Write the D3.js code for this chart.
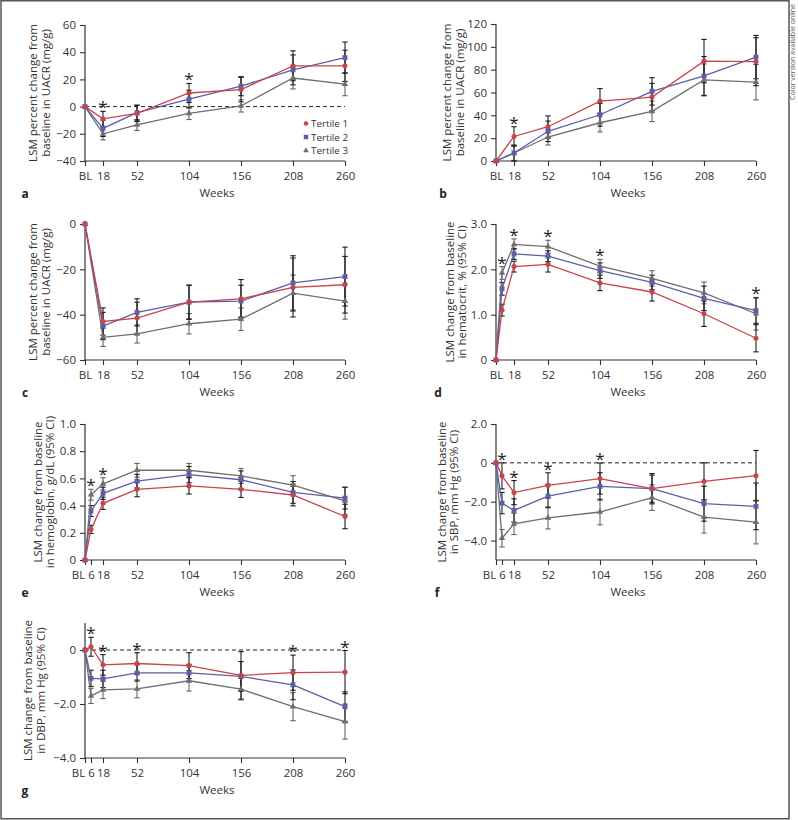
<!DOCTYPE html>
<html><head><meta charset="utf-8">
<script src="https://cdn.jsdelivr.net/npm/d3@7"></script>
<style>
html,body{margin:0;padding:0;background:#fff;}
svg{display:block;}
text{font-family:"Open Sans","DejaVu Sans",sans-serif;fill:#333;}
</style></head>
<body>
<svg id="chart" width="798" height="820"></svg>
<script>
// ---------- DATA ----------
const seriesNames = ["Tertile 1", "Tertile 2", "Tertile 3"];
const weeksA = [0, 18, 52, 104, 156, 208, 260];
const weeksB = [0, 6, 18, 52, 104, 156, 208, 260];
const tickLabelsA = ["BL", "18", "52", "104", "156", "208", "260"];
const tickLabelsB = ["BL", "6", "18", "52", "104", "156", "208", "260"];

// a: UACR
const a_t1 = [0, -9, -5, 10, 12.5, 30, 30];
const a_t2 = [0, -16, -4.5, 5.5, 15, 27, 36];
const a_t3 = [0, -20, -13.5, -5, 0.5, 21, 16.5];
const a_ci1 = [0, 5.5, 6, 7, 9, 11, 11.5];
const a_ci2 = [0, 6, 5.5, 6.5, 7, 11, 11.5];
const a_ci3 = [0, 4.5, 4, 4.5, 4.5, 8, 8.5];
const a_stars = [18, 104];

// b
const b_t1 = [0, 21.5, 30, 52.5, 56, 87.5, 87];
const b_t2 = [0, 7, 26, 40.5, 61, 74.5, 91];
const b_t3 = [0, 7, 21, 33.5, 43.5, 71, 69];
const b_ci1 = [0, 8.5, 9.5, 11, 12, 19, 21];
const b_ci2 = [0, 7, 9, 10, 12, 17, 19];
const b_ci3 = [0, 6.5, 7, 8, 9, 14, 15.5];
const b_stars = [18];

// c
const c_t1 = [0, -43, -41.5, -34.5, -33, -28, -26.8];
const c_t2 = [0, -45, -39, -34.5, -34, -26, -23.2];
const c_t3 = [0, -50, -48.5, -44, -42, -30.5, -34];
const c_ci1 = [0, 6, 7, 7.5, 8.5, 13, 12.5];
const c_ci2 = [0, 6, 6, 7.5, 7, 12, 13];
const c_ci3 = [0, 4, 4, 4.5, 5, 8, 8];
const c_stars = [];

// d: hematocrit
const d_t1 = [0, 1.1, 2.06, 2.11, 1.7, 1.5, 1.02, 0.48];
const d_t2 = [0, 1.57, 2.34, 2.29, 1.97, 1.71, 1.36, 1.09];
const d_t3 = [0, 1.92, 2.55, 2.5, 2.07, 1.8, 1.48, 1.02];
const d_ci1 = [0, 0.13, 0.12, 0.17, 0.17, 0.2, 0.28, 0.3];
const d_ci2 = [0, 0.14, 0.12, 0.12, 0.17, 0.16, 0.27, 0.28];
const d_ci3 = [0, 0.14, 0.12, 0.14, 0.15, 0.17, 0.24, 0.36];
const d_stars = [6, 18, 52, 104, 260];

// e: hemoglobin
const e_t1 = [0, 0.225, 0.417, 0.52, 0.545, 0.52, 0.478, 0.32];
const e_t2 = [0, 0.36, 0.49, 0.58, 0.628, 0.59, 0.497, 0.455];
const e_t3 = [0, 0.48, 0.56, 0.66, 0.66, 0.618, 0.55, 0.435];
const e_ci1 = [0, 0.03, 0.045, 0.055, 0.06, 0.06, 0.08, 0.09];
const e_ci2 = [0, 0.04, 0.045, 0.05, 0.06, 0.065, 0.08, 0.08];
const e_ci3 = [0, 0.04, 0.045, 0.05, 0.05, 0.055, 0.07, 0.1];
const e_stars = [6, 18];

// f: SBP
const f_t1 = [0, -0.67, -1.53, -1.16, -0.81, -1.33, -0.95, -0.66];
const f_t2 = [0, -2.07, -2.45, -1.71, -1.21, -1.33, -2.1, -2.24];
const f_t3 = [0, -3.88, -3.14, -2.83, -2.53, -1.79, -2.79, -3.05];
const f_ci1 = [0, 0.67, 0.62, 0.65, 0.8, 0.78, 0.95, 1.3];
const f_ci2 = [0, 0.55, 0.6, 0.6, 0.7, 0.7, 0.9, 1.2];
const f_ci3 = [0, 0.45, 0.55, 0.57, 0.66, 0.66, 0.82, 1.12];
const f_stars = [6, 18, 52, 104];

// g: DBP
const g_t1 = [0, 0.12, -0.55, -0.5, -0.58, -0.94, -0.84, -0.82];
const g_t2 = [0, -1.05, -1.07, -0.85, -0.85, -0.98, -1.29, -2.1];
const g_t3 = [0, -1.7, -1.48, -1.44, -1.14, -1.45, -2.1, -2.65];
const g_ci1 = [0, 0.35, 0.38, 0.4, 0.48, 0.88, 0.65, 0.8];
const g_ci2 = [0, 0.3, 0.32, 0.3, 0.32, 0.55, 0.55, 0.55];
const g_ci3 = [0, 0.28, 0.32, 0.33, 0.38, 0.4, 0.52, 0.65];
const g_stars = [6, 18, 52, 208, 260];

const yTicksA = [60, 40, 20, 0, -20, -40];
const yTicksB = [120, 100, 80, 60, 40, 20, 0];
const yTicksC = [0, -20, -40, -60];
const yTicksD = [3, 2, 1, 0];
const yTicksE = [1, 0.8, 0.6, 0.4, 0.2, 0];
const yTicksF = [2, 0, -2, -4];
const yTicksG = [0, -2, -4];

// ---------- STYLE / LAYOUT ----------
const colors = ["#c8434a", "#5a5fa8", "#6e6e6e"];
const barColors = ["#1e1e1e", "#1e1e1e", "#666"];
const uacrTitle = ["LSM percent change from", "baseline in UACR (mg/g)"];

const panels = [
  {id:"a", left:85, top:25, bottom:161, dom:[-40,60], ticks:yTicksA, fmt:"int", weeks:weeksA, labels:tickLabelsA,
   s:[a_t1,a_t2,a_t3], ci:[a_ci1,a_ci2,a_ci3], stars:a_stars, zero:true, title:uacrTitle, tx:[33,46], letterX:25, legend:true},
  {id:"b", left:496, top:24, bottom:161, dom:[0,120], ticks:yTicksB, fmt:"int", weeks:weeksA, labels:tickLabelsA,
   s:[b_t1,b_t2,b_t3], ci:[b_ci1,b_ci2,b_ci3], stars:b_stars, zero:false, title:uacrTitle, tx:[447,460], letterX:443},
  {id:"c", left:85, top:224, bottom:360, dom:[-60,0], ticks:yTicksC, fmt:"int", weeks:weeksA, labels:tickLabelsA,
   s:[c_t1,c_t2,c_t3], ci:[c_ci1,c_ci2,c_ci3], stars:c_stars, zero:false, title:uacrTitle, tx:[33,46], letterX:25},
  {id:"d", left:496, top:224, bottom:360, dom:[0,3], ticks:yTicksD, fmt:"dec1", weeks:weeksB, labels:tickLabelsA, tickWeeks:weeksA,
   s:[d_t1,d_t2,d_t3], ci:[d_ci1,d_ci2,d_ci3], stars:d_stars, zero:false,
   title:["LSM change from baseline","in hematocrit, % (95% CI)"], tx:[450,462], letterX:438},
  {id:"e", left:85, top:424, bottom:560, dom:[0,1], ticks:yTicksE, fmt:"dec1", weeks:weeksB, labels:tickLabelsB, tickWeeks:weeksB,
   s:[e_t1,e_t2,e_t3], ci:[e_ci1,e_ci2,e_ci3], stars:e_stars, zero:false,
   title:["LSM change from baseline","in hemoglobin, g/dL (95% CI)"], tx:[38,50], letterX:25},
  {id:"f", left:496, top:424, bottom:560, dom:[-5,2], ticks:yTicksF, fmt:"dec1", weeks:weeksB, labels:tickLabelsB, tickWeeks:weeksB,
   s:[f_t1,f_t2,f_t3], ci:[f_ci1,f_ci2,f_ci3], stars:f_stars, zero:true,
   title:["LSM change from baseline","in SBP, mm Hg (95% CI)"], tx:[442,454], letterX:437},
  {id:"g", left:85, top:623, bottom:758, dom:[-4,1], ticks:yTicksG, fmt:"dec1", weeks:weeksB, labels:tickLabelsB, tickWeeks:weeksB,
   s:[g_t1,g_t2,g_t3], ci:[g_ci1,g_ci2,g_ci3], stars:g_stars, zero:true,
   title:["LSM change from baseline","in DBP, mm Hg (95% CI)"], tx:[28,41], letterX:25}
];

const svg = d3.select("#chart");

// frame
svg.append("rect").attr("x",1).attr("y",0.75).attr("width",788).attr("height",818)
  .attr("fill","none").attr("stroke","#555").attr("stroke-width",1.5);
svg.append("text").attr("transform","translate(795,100) rotate(-90)")
  .attr("text-anchor","start").attr("textLength",96).attr("lengthAdjust","spacingAndGlyphs")
  .style("font-size","8px").style("fill","#555")
  .text("Color version available online");

function fmtTick(v, f){
  if (v === 0) return "0";
  const s = f === "dec1" ? Math.abs(v).toFixed(1) : String(Math.abs(v));
  return (v < 0 ? "\u2212" : "") + s;
}

function symbolFor(i){
  return [d3.symbolCircle, d3.symbolSquare, d3.symbolTriangle][i];
}
const symSizes = [20, 24, 18];

panels.forEach(p => {
  const g = svg.append("g");
  const x = d3.scaleLinear().domain([0,260]).range([p.left, p.left+260]);
  const y = d3.scaleLinear().domain(p.dom).range([p.bottom, p.top]);
  const tickWeeks = p.tickWeeks || p.weeks;

  // y axis
  const yAxis = d3.axisLeft(y).tickValues(p.ticks).tickSize(5).tickPadding(4)
    .tickFormat(v => fmtTick(v, p.fmt));
  const ya = g.append("g").attr("transform",`translate(${p.left},0)`).call(yAxis);
  ya.select(".domain").attr("d",`M-0,${p.top}V${p.bottom}`).attr("stroke","#333").attr("stroke-width",1.2);
  ya.selectAll(".tick line").attr("stroke","#333").attr("stroke-width",1.1);
  ya.selectAll(".tick text").style("font-size","11.5px").style("fill","#333").attr("font-family",null);

  // x axis
  const xAxis = d3.axisBottom(x).tickValues(tickWeeks).tickSize(5).tickPadding(6)
    .tickFormat((d,i) => p.labels[i]);
  const xa = g.append("g").attr("transform",`translate(0,${p.bottom})`).call(xAxis);
  xa.select(".domain").attr("d",`M${p.left},0H${p.left+260}`).attr("stroke","#333").attr("stroke-width",1.2);
  xa.selectAll(".tick line").attr("stroke","#333").attr("stroke-width",1.1);
  xa.selectAll(".tick text").style("font-size","11.5px").style("fill","#333").attr("font-family",null)
    .attr("dx",(d,i)=> (i===0 && p.labels.length===8) ? -7 : 0);

  // zero line
  if (p.zero) {
    g.append("line").attr("x1",x(0)).attr("x2",x(260)).attr("y1",y(0)).attr("y2",y(0))
      .attr("stroke","#222").attr("stroke-width",1).attr("stroke-dasharray","4,3");
  }

  // error bars
  [2,1,0].forEach(si => {
    const vals = p.s[si], ci = p.ci[si];
    p.weeks.forEach((w,i) => {
      if (ci[i] <= 0) return;
      const xx = x(w), y1 = y(vals[i]-ci[i]), y2 = y(vals[i]+ci[i]);
      const eb = g.append("g").attr("stroke",barColors[si]).attr("stroke-width",1.1);
      eb.append("line").attr("x1",xx).attr("x2",xx).attr("y1",y1).attr("y2",y2);
      eb.append("line").attr("x1",xx-2.7).attr("x2",xx+2.7).attr("y1",y1).attr("y2",y1);
      eb.append("line").attr("x1",xx-2.7).attr("x2",xx+2.7).attr("y1",y2).attr("y2",y2);
    });
  });

  // lines
  [2,1,0].forEach(si => {
    const line = d3.line().x((d,i)=>x(p.weeks[i])).y(d=>y(d));
    g.append("path").datum(p.s[si]).attr("d",line).attr("fill","none")
      .attr("stroke",colors[si]).attr("stroke-width",1.3);
  });

  // markers
  [2,1,0].forEach(si => {
    g.selectAll(null).data(p.s[si]).join("path")
      .attr("transform",(d,i)=>`translate(${x(p.weeks[i])},${y(d)})`)
      .attr("d", d3.symbol().type(symbolFor(si)).size(symSizes[si]))
      .attr("fill",colors[si]);
  });

  // stars
  p.stars.forEach(w => {
    const i = p.weeks.indexOf(w);
    const top = d3.max([0,1,2], si => p.s[si][i] + p.ci[si][i]);
    g.append("text").attr("x",x(w)).attr("y",y(top)+2).attr("text-anchor","middle")
      .style("font-size","17px").style("fill","#222").text("*");
  });

  // y title
  const cy = (p.top + p.bottom)/2;
  p.title.forEach((t,k) => {
    g.append("text").attr("transform",`translate(${p.tx[k]+4},${cy}) rotate(-90)`)
      .attr("text-anchor","middle").style("font-size","11.5px").text(t);
  });

  // x title
  g.append("text").attr("x",p.left+132).attr("y",p.bottom+36).attr("text-anchor","middle")
    .style("font-size","11.5px").text("Weeks");
  // letter
  g.append("text").attr("x",p.letterX).attr("y",p.bottom+37).attr("text-anchor","middle")
    .style("font-size","12px").style("font-weight","bold").style("fill","#222").text(p.id);

  // legend
  if (p.legend) {
    seriesNames.forEach((n,si) => {
      const ly = 123.5 + si*13.5;
      g.append("path").attr("transform",`translate(306,${ly})`)
        .attr("d", d3.symbol().type(symbolFor(si)).size(symSizes[si]-4)).attr("fill",colors[si]);
      g.append("text").attr("x",311).attr("y",ly+3.5).style("font-size","9.8px").text(n);
    });
  }
});
</script>
</body></html>
